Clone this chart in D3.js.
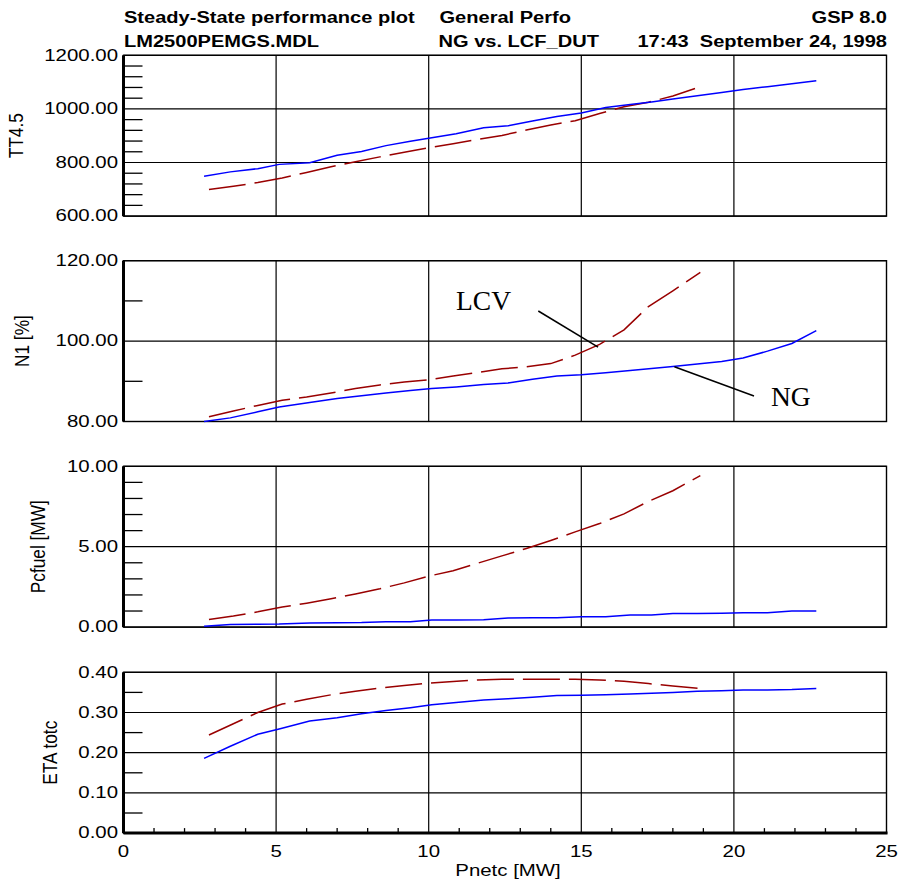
<!DOCTYPE html>
<html>
<head>
<meta charset="utf-8">
<script src="https://cdn.jsdelivr.net/npm/d3@7"></script>
<style>
  body { margin: 0; background: #fff; }
  svg { display: block; }
</style>
</head>
<body>
<svg id="chart" width="902" height="886"></svg>
<script>
// ---- Data: GSP steady-state run, natural gas (NG) vs. low calorific fuel (LCV) ----
const ngPnetc  = [2.64, 3.5, 4.4, 5.1, 6.1, 7.0, 7.8, 8.6, 9.4, 10.1, 10.9, 11.8, 12.6,
                  13.4, 14.2, 15.0, 15.8, 16.6, 17.3, 18.0, 18.8, 19.6, 20.3, 21.1, 21.9, 22.7];
const lcvPnetc = [2.8, 3.6, 4.4, 5.2, 6.0, 6.8, 7.6, 8.4, 9.2, 10.0, 10.8, 11.6, 12.4,
                  13.2, 14.0, 14.8, 15.6, 16.4, 17.2, 18.0, 18.9];

const ngTT45  = [749, 765, 777, 793, 799, 827, 841, 863, 879, 892, 907, 930, 937,
                 955, 972, 985, 1005, 1016, 1026, 1037, 1049, 1061, 1072, 1083, 1094, 1105];
const lcvTT45 = [699, 711, 725, 742, 763, 784, 803, 821, 838, 855, 870, 886, 901,
                 921, 940, 956, 983, 1008, 1025, 1048, 1083];

const ngN1  = [80.0, 80.9, 82.4, 83.6, 84.7, 85.7, 86.4, 87.1, 87.7, 88.2, 88.6, 89.2, 89.6,
               90.5, 91.3, 91.6, 92.1, 92.7, 93.2, 93.7, 94.3, 94.9, 95.8, 97.5, 99.4, 102.6];
const lcvN1 = [81.2, 82.6, 84.0, 85.3, 86.1, 87.1, 88.2, 89.1, 89.8, 90.4, 91.3, 92.2, 93.1,
               93.6, 94.4, 96.5, 99.2, 102.8, 108.6, 112.5, 117.1];

const ngPcfuel  = [0.06, 0.16, 0.18, 0.19, 0.26, 0.27, 0.28, 0.33, 0.33, 0.44, 0.44, 0.45, 0.57,
                   0.58, 0.58, 0.64, 0.65, 0.75, 0.76, 0.85, 0.85, 0.86, 0.89, 0.90, 1.00, 1.00];
const lcvPcfuel = [0.47, 0.69, 0.95, 1.25, 1.49, 1.76, 2.06, 2.38, 2.75, 3.17, 3.50, 3.97, 4.43,
                   4.89, 5.39, 5.92, 6.44, 7.04, 7.82, 8.48, 9.42];

const ngEta  = [0.186, 0.216, 0.246, 0.259, 0.279, 0.287, 0.297, 0.305, 0.312, 0.319, 0.325, 0.331, 0.334,
                0.338, 0.342, 0.343, 0.344, 0.346, 0.348, 0.350, 0.353, 0.354, 0.356, 0.356, 0.357, 0.360];
const lcvEta = [0.244, 0.272, 0.300, 0.321, 0.333, 0.344, 0.353, 0.361, 0.367, 0.373, 0.377, 0.381, 0.383,
                0.383, 0.383, 0.383, 0.381, 0.378, 0.372, 0.366, 0.360];

// Axis definitions
const xTicks = [0, 5, 10, 15, 20, 25];
const panelLabels = ["TT4.5", "N1 [%]", "Pcfuel [MW]", "ETA totc"];
const yDomains = [[600, 1200], [80, 120], [0, 10], [0, 0.4]];
const yMajorTicks = [[600, 800, 1000, 1200], [80, 100, 120], [0, 5, 10], [0, 0.1, 0.2, 0.3, 0.4]];
const yMinorStep = [40, 10, 1, 0.05];

const headerLeft   = ["Steady-State performance plot", "LM2500PEMGS.MDL"];
const headerMiddle = ["General Perfo", "NG vs. LCF_DUT"];
const headerRight  = ["GSP 8.0", "17:43  September 24, 1998"];

// ---- Layout ----
const svg = d3.select("#chart");
const left = 123.5, right = 886.5;
const panelTops = [55.3, 260.7, 466.3, 672.3];
const panelH = 160.8;
const labelBaselineX = [22.5, 29, 44.5, 56.5];
const SX = 1.18;           // horizontal widening of the plot fonts
const FONT = "'Liberation Sans', Arial, sans-serif";
const NG_COLOR = "#0000ff", LCV_COLOR = "#990000";

const x = d3.scaleLinear().domain([0, 25]).range([left, right]);

function wideText(parent, px, py, str, opt = {}) {
  const t = parent.append("text")
    .attr("transform", `translate(${px},${py}) scale(${SX},1)` + (opt.rotate ? " rotate(-90)" : ""))
    .attr("font-family", FONT)
    .attr("font-size", opt.size || 17.3)
    .attr("font-weight", opt.bold ? "bold" : "normal")
    .attr("text-anchor", opt.anchor || "start")
    .attr("fill", "#000")
    .text(str);
  if (opt.space) t.attr("xml:space", "preserve").style("white-space", "pre");
  return t;
}

// Header
const hdr = svg.append("g");
wideText(hdr, 124, 22.5, headerLeft[0], { bold: true, size: 17 });
wideText(hdr, 124, 47, headerLeft[1], { bold: true, size: 17 });
wideText(hdr, 439.5, 22.5, headerMiddle[0], { bold: true, size: 17 });
wideText(hdr, 438.5, 47, headerMiddle[1], { bold: true, size: 17 });
wideText(hdr, 887, 22.5, headerRight[0], { bold: true, anchor: "end", size: 17 });
wideText(hdr, 887, 47, headerRight[1], { bold: true, anchor: "end", space: true, size: 17 });

const series = [
  { ng: ngTT45,   lcv: lcvTT45 },
  { ng: ngN1,     lcv: lcvN1 },
  { ng: ngPcfuel, lcv: lcvPcfuel },
  { ng: ngEta,    lcv: lcvEta }
];

const fmt = d3.format(".2f");

panelLabels.forEach((label, i) => {
  const top = panelTops[i], bottom = top + panelH;
  const y = d3.scaleLinear().domain(yDomains[i]).range([bottom, top]);
  const g = svg.append("g");

  // frame
  g.append("rect")
    .attr("x", left).attr("y", top)
    .attr("width", right - left).attr("height", panelH)
    .attr("fill", "none").attr("stroke", "#000").attr("stroke-width", 1.4);

  // horizontal grid at major ticks
  g.selectAll(".hg").data(yMajorTicks[i]).join("line")
    .attr("x1", left).attr("x2", right)
    .attr("y1", d => y(d)).attr("y2", d => y(d))
    .attr("stroke", "#000").attr("stroke-width", 1.2);

  // vertical grid at major x ticks
  g.selectAll(".vg").data(xTicks.slice(1, -1)).join("line")
    .attr("x1", d => x(d)).attr("x2", d => x(d))
    .attr("y1", top).attr("y2", bottom)
    .attr("stroke", "#000").attr("stroke-width", 1.2);

  // minor y ticks pointing into the plot
  const [d0, d1] = yDomains[i];
  const minors = d3.range(d0, d1 + 1e-9, yMinorStep[i])
    .filter(v => !yMajorTicks[i].some(m => Math.abs(m - v) < 1e-9));
  g.selectAll(".my").data(minors).join("line")
    .attr("x1", left).attr("x2", left + 19)
    .attr("y1", d => y(d)).attr("y2", d => y(d))
    .attr("stroke", "#000").attr("stroke-width", 1.3);

  // thick left axis
  g.append("line")
    .attr("x1", left).attr("x2", left).attr("y1", top).attr("y2", bottom)
    .attr("stroke", "#000").attr("stroke-width", 3);

  // y tick labels
  yMajorTicks[i].forEach(v => {
    wideText(g, 118, y(v) + 5.2, fmt(v), { anchor: "end" });
  });

  // rotated axis title
  wideText(g, labelBaselineX[i], (top + bottom) / 2, label, { anchor: "middle", rotate: true });

  // curves
  const lineNG = d3.line().x((d, k) => x(ngPnetc[k])).y(d => y(d));
  const lineLCV = d3.line().x((d, k) => x(lcvPnetc[k])).y(d => y(d));
  g.append("path").datum(series[i].lcv)
    .attr("d", lineLCV).attr("fill", "none")
    .attr("stroke", LCV_COLOR).attr("stroke-width", 1.5)
    .attr("stroke-dasharray", "37,9");
  g.append("path").datum(series[i].ng)
    .attr("d", lineNG).attr("fill", "none")
    .attr("stroke", NG_COLOR).attr("stroke-width", 1.5);

  if (i === 1) {
    // series annotations with leader lines
    const ann = g.append("g");
    ann.append("line")
      .attr("x1", 538.3).attr("y1", 311).attr("x2", x(15.55)).attr("y2", y(98.5))
      .attr("stroke", "#000").attr("stroke-width", 1.5);
    ann.append("line")
      .attr("x1", x(18.05)).attr("y1", y(93.6)).attr("x2", 754).attr("y2", 396)
      .attr("stroke", "#000").attr("stroke-width", 1.5);
    ann.append("text").attr("x", 456).attr("y", 310)
      .attr("font-family", "'Liberation Serif', 'Times New Roman', serif")
      .attr("font-size", 27.5).text("LCV");
    ann.append("text").attr("x", 771).attr("y", 405.5)
      .attr("font-family", "'Liberation Serif', 'Times New Roman', serif")
      .attr("font-size", 27.5).text("NG");
  }

  if (i === 3) {
    // bottom x axis with minor ticks
    const minorX = d3.range(1, 25).filter(v => v % 5 !== 0);
    g.selectAll(".mx").data(minorX).join("line")
      .attr("x1", d => x(d)).attr("x2", d => x(d))
      .attr("y1", bottom).attr("y2", bottom - 5)
      .attr("stroke", "#000").attr("stroke-width", 1.3);
    g.append("line")
      .attr("x1", left).attr("x2", right + 1).attr("y1", bottom).attr("y2", bottom)
      .attr("stroke", "#000").attr("stroke-width", 3);
    xTicks.forEach(v => {
      wideText(g, x(v), 857, String(v), { anchor: "middle" });
    });
    wideText(g, (left + right) / 2 + 3, 876, "Pnetc [MW]", { anchor: "middle" });
  }
});
</script>
</body>
</html>
